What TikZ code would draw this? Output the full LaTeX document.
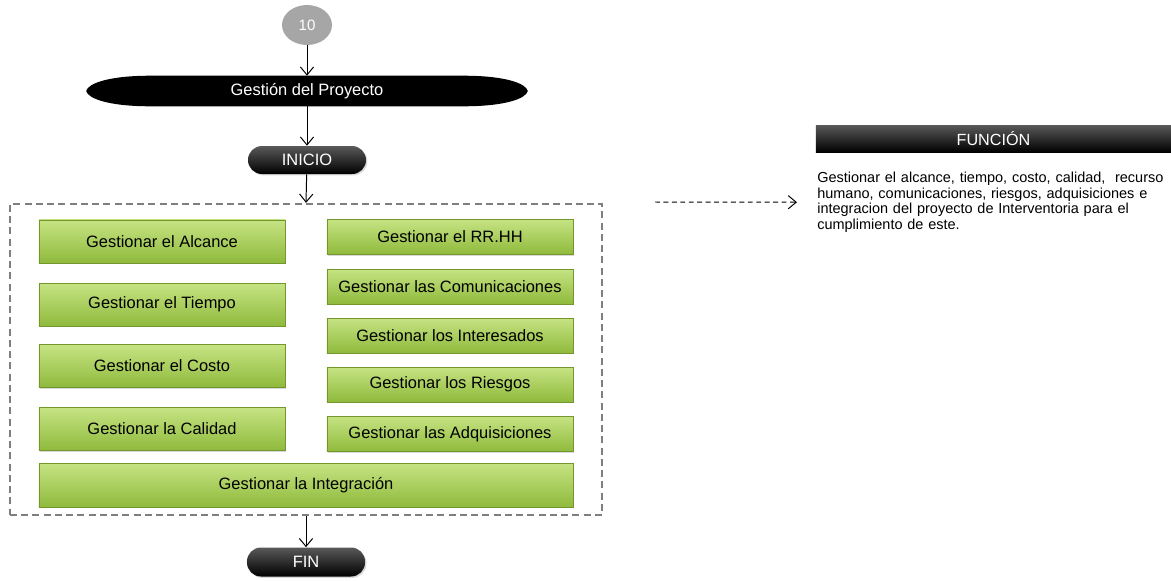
\documentclass[tikz,border=0pt]{standalone}
\usepackage{fontspec}
\setmainfont{Liberation Sans}
\usetikzlibrary{arrows.meta, positioning, shapes.geometric, shadows, backgrounds}
\definecolor{boxtop}{HTML}{C6E383}
\definecolor{boxmid}{HTML}{A8CF4F}
\definecolor{boxbot}{HTML}{8FBA3C}
\definecolor{boxline}{HTML}{74962C}
\definecolor{frameg}{HTML}{7F7F7F}
\definecolor{startg}{HTML}{A6A6A6}

\begin{document}
\begin{tikzpicture}[
x=0.025cm, y=-0.025cm,
font=\fontsize{11.7}{13}\selectfont,
box/.style={draw=boxline,
rectangle,
top color=boxtop,
middle color=boxmid,
bottom color=boxbot,
minimum width=6.15cm,
minimum height=1.075cm,
inner sep=0pt,
align=center,
drop shadow={opacity=0.3, shadow xshift=1pt, shadow yshift=-1pt}},
rbox/.style={box, minimum height=0.875cm},
pill/.style={rectangle, rounded corners=0.35cm, top color=black!65, middle color=black, bottom color=black, text=white,
minimum width=2.95cm, minimum height=0.7cm, inner sep=0pt,
drop shadow={opacity=0.3, shadow xshift=1pt, shadow yshift=-1pt}},
arrow/.style={-{Straight Barb[length=0.2cm, width=0.33cm]}, line width=0.7pt}
]

\useasboundingbox (0,0) rectangle (1171,580);

% flujo principal
\node[ellipse, fill=startg, text=white, minimum width=1.25cm, minimum height=1cm,
inner sep=0pt, font=\fontsize{10.7}{12}\selectfont] (start) at (307,25) {10};
\node[text=white, minimum width=11.025cm, minimum height=0.75cm, inner sep=0pt] (proyecto) at (307,91) {Gestión del Proyecto};
\begin{scope}[on background layer]
\fill[black] (proyecto.west)
 .. controls ([xshift=0.05cm, yshift=0.2cm]proyecto.west) and ([xshift=0.6cm]proyecto.north west) .. ([xshift=1.6cm]proyecto.north west)
 -- ([xshift=-1.6cm]proyecto.north east)
 .. controls ([xshift=-0.6cm]proyecto.north east) and ([xshift=-0.05cm, yshift=0.2cm]proyecto.east) .. (proyecto.east)
 .. controls ([xshift=-0.05cm, yshift=-0.2cm]proyecto.east) and ([xshift=-0.6cm]proyecto.south east) .. ([xshift=-1.6cm]proyecto.south east)
 -- ([xshift=1.6cm]proyecto.south west)
 .. controls ([xshift=0.6cm]proyecto.south west) and ([xshift=0.05cm, yshift=-0.2cm]proyecto.west) .. (proyecto.west);
\end{scope}
\node[pill] (inicio) at (307,160) {INICIO};

\node[draw=frameg, dash pattern=on 5pt off 3pt, line width=1.6pt,
minimum width=14.8cm, minimum height=7.775cm] (frame) at (306,359.5) {};

% columna izquierda
\node[box] (alcance) at (162,241.5) {Gestionar el Alcance};
\node[box] (tiempo) at (162,304.5) {Gestionar el Tiempo};
\node[box] (costo) at (162,366) {Gestionar el Costo};
\node[box] (calidad) at (162,429) {Gestionar la Calidad};

% columna derecha
\node[rbox] (rrhh) at (450,237) {Gestionar el RR.HH};
\node[rbox] (comunicaciones) at (450,286.5) {Gestionar las Comunicaciones};
\node[rbox] (interesados) at (450,335.5) {Gestionar los Interesados};
\node[rbox] (riesgos) at (450,384.5) {Gestionar los Riesgos};
\node[rbox] (adquisiciones) at (450,434) {Gestionar las Adquisiciones};

\node[box, minimum width=13.35cm, minimum height=1.1cm] (integracion) at (306,485) {Gestionar la Integración};

\node[pill, minimum height=0.725cm] (fin) at (306,562) {FIN};

\draw[arrow] (start) -- (proyecto);
\draw[arrow] (proyecto) -- (inicio);
\draw[arrow] (inicio) -- (frame.north);
\draw[arrow] (frame.south) -- (fin);

% funcion
\node[top color=black!65, middle color=black, bottom color=black, text=white, minimum width=8.875cm, minimum height=0.675cm, inner sep=0pt,
font=\fontsize{11.5}{12}\selectfont] (funcion) at (993.5,138.5) {FUNCIÓN};
\node[anchor=north west, inner sep=0pt, text width=9.2cm, align=left,
font=\fontsize{10.3}{11}\selectfont] (desc) at (817,172)
{Gestionar el alcance, tiempo, costo, calidad,~ recurso\\
humano, comunicaciones, riesgos, adquisiciones e\\
integracion del proyecto de Interventoria para el\\
cumplimiento de este.};

\coordinate (dashstart) at (655,202);
\draw[arrow, dash pattern=on 3.5pt off 2.5pt] (dashstart) -- ([xshift=-0.5cm]desc.west);

\end{tikzpicture}
\end{document}
